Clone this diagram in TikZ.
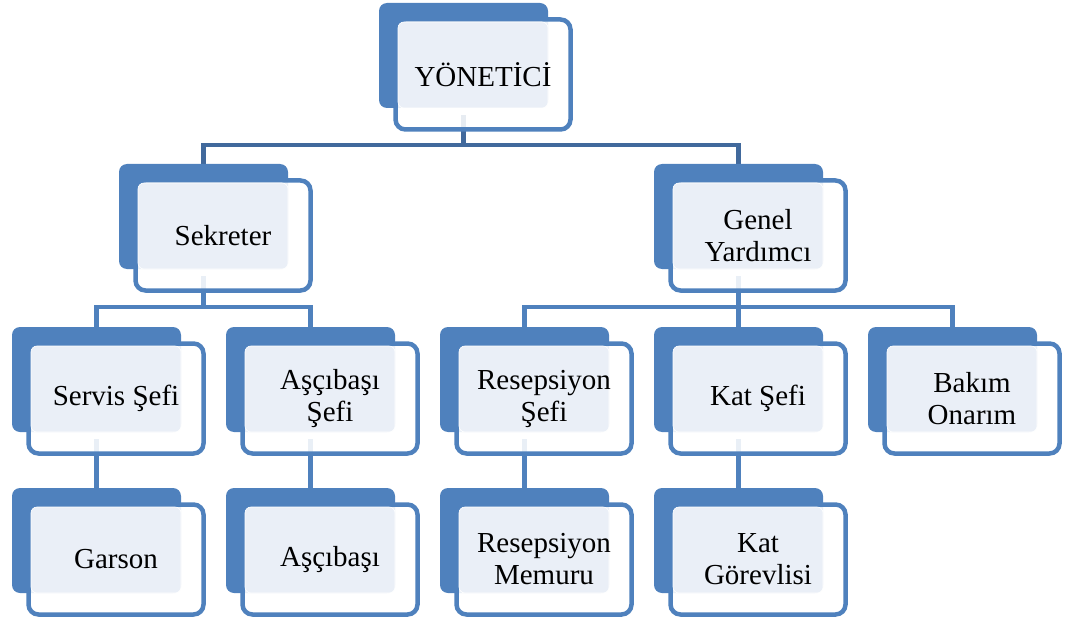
\documentclass[tikz,border=0pt]{standalone}
\usepackage{fontspec}
\setmainfont{Liberation Serif}
\usetikzlibrary{calc}
\definecolor{blueC}{HTML}{4F81BD}
\definecolor{topC}{HTML}{41699C}
\definecolor{lightC}{HTML}{EAEFF7}
\pgfdeclarelayer{bg}
\pgfsetlayers{bg,main}
\tikzset{
  bluebox/.style={fill=blueC, rounded corners=8pt, minimum width=169pt, minimum height=105pt, inner sep=0pt, outer sep=0pt},
  whitebox/.style={draw=blueC, line width=4.5pt, fill=white, fill opacity=0.88, rounded corners=10pt, minimum width=175pt, minimum height=110pt, inner sep=0pt, outer sep=0pt},
  lightbox/.style={fill=lightC, draw=white, line width=0.6pt, rounded corners=6pt, minimum width=150pt, minimum height=86pt, inner sep=0pt, outer sep=0pt},
  txt/.style={font=\fontsize{29}{32}\selectfont, align=center, text=black, inner sep=0pt},
  conn/.style={draw=blueC, line width=4.5pt},
  topconn/.style={draw=topC, line width=4.5pt}
}
\newcommand{\obox}[4]{%
  \node[bluebox, anchor=north west] (#1) at (#2,#3) {};
  \node[whitebox] (#1-w) at ($(#1.north west)+(104,71.5)$) {};
  \node[lightbox] (#1-l) at ($(#1.north west)+(94,62)$) {};
  \node[txt] (#1-t) at (#1-w) {#4};
}
\begin{document}
\begin{tikzpicture}[x=1pt,y=-1pt]
\useasboundingbox (0,0) rectangle (1066,623);
% nodes
\obox{yon}{379}{3}{YÖNETİCİ}
\obox{sek}{119}{164}{Sekreter}
\obox{gen}{654}{164}{Genel\\Yardımcı}
\obox{ser}{12}{327}{Servis Şefi}
\obox{asef}{226}{327}{Aşçıbaşı\\Şefi}
\obox{rsef}{440}{327}{Resepsiyon\\Şefi}
\obox{kat}{654}{327}{Kat Şefi}
\obox{bak}{868}{327}{Bakım\\Onarım}
\obox{gar}{12}{488}{Garson}
\obox{asc}{226}{488}{Aşçıbaşı}
\obox{rmem}{440}{488}{Resepsiyon\\Memuru}
\obox{katg}{654}{488}{Kat\\Görevlisi}
% connectors
\coordinate (bus1) at (463.5,145);
\coordinate (busL) at (203.5,307);
\coordinate (busR) at (738.5,307);
\begin{pgfonlayer}{bg}
\draw[topconn] ([yshift=-7pt]yon.south) -- (bus1);
\draw[topconn] (sek.north) |- (bus1);
\draw[topconn] (gen.north) |- (bus1);
\draw[conn] ([yshift=-7pt]sek.south) -- (busL);
\draw[conn] (ser.north) |- (busL);
\draw[conn] (asef.north) |- (busL);
\draw[conn] ([yshift=-7pt]gen.south) -- (busR);
\draw[conn] (rsef.north) |- (busR);
\draw[conn] (kat.north) |- (busR);
\draw[conn] (bak.north) |- (busR);
\draw[conn] ([yshift=-7pt]ser.south) -- (gar.north);
\draw[conn] ([yshift=-7pt]asef.south) -- (asc.north);
\draw[conn] ([yshift=-7pt]rsef.south) -- (rmem.north);
\draw[conn] ([yshift=-7pt]kat.south) -- (katg.north);
\end{pgfonlayer}
\end{tikzpicture}
\end{document}
